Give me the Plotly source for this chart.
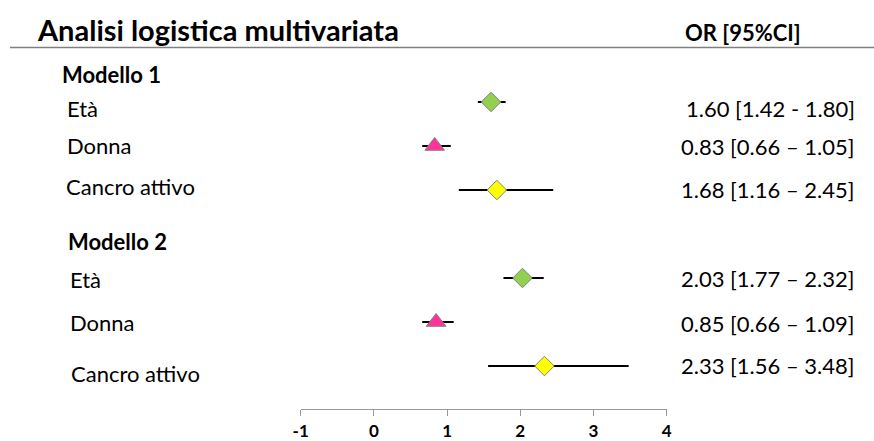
import plotly.graph_objects as go

# Odds ratios and 95% confidence intervals for the two logistic models
models = ["Modello 1", "Modello 2"]
variables = ["Età", "Donna", "Cancro attivo"]
or_m1 = [1.60, 0.83, 1.68]
lo_m1 = [1.42, 0.66, 1.16]
hi_m1 = [1.80, 1.05, 2.45]
or_m2 = [2.03, 0.85, 2.33]
lo_m2 = [1.77, 0.66, 1.56]
hi_m2 = [2.32, 1.09, 3.48]
ci_text_m1 = ["1.60 [1.42 - 1.80]", "0.83 [0.66 – 1.05]", "1.68 [1.16 – 2.45]"]
ci_text_m2 = ["2.03 [1.77 – 2.32]", "0.85 [0.66 – 1.09]", "2.33 [1.56 – 3.48]"]
x_ticks = [-1, 0, 1, 2, 3, 4]

# marker style per variable
symbols = ["diamond", "triangle-up", "diamond"]
colors = ["#92D050", "#FF3399", "#FFFF00"]
sizes = [15, 17, 15]

W, H = 874, 441
FONT = "Lato, 'Open Sans', sans-serif"

# row slots: header of model 1 at 0, its variables at 1..3, header of model 2 at 4, variables 5..7
rows_m1 = [1, 2, 3]
rows_m2 = [5, 6, 7]

fig = go.Figure()

for rows, ors, los, his in [(rows_m1, or_m1, lo_m1, hi_m1), (rows_m2, or_m2, lo_m2, hi_m2)]:
    for i in range(3):
        fig.add_trace(go.Scatter(
            x=[ors[i]], y=[rows[i]], mode="markers",
            marker=dict(symbol=symbols[i], size=sizes[i], color=colors[i],
                        line=dict(color="#7F7F7F", width=1)),
            error_x=dict(type="data", symmetric=False,
                         array=[his[i] - ors[i]], arrayminus=[ors[i] - los[i]],
                         color="black", thickness=2, width=0),
            showlegend=False, hoverinfo="skip",
        ))

# helpers for placing text in pixel units
def px(x):
    return x / W

def py(y):
    return 1 - y / H

annotations = []

def label(text, x, y, anchor="left", size=22, bold=False):
    annotations.append(dict(
        text=f"<b>{text}</b>" if bold else text,
        x=px(x), y=py(y), xref="paper", yref="paper",
        xanchor=anchor, yanchor="middle", showarrow=False,
        borderpad=0, borderwidth=0,
        font=dict(family=FONT, size=size, color="black"),
    ))

label("Analisi logistica multivariata", 37, 30, size=29, bold=True)
label("OR [95%CI]", 685, 32, size=22, bold=True)

label(models[0], 62, 75, size=22, bold=True)
for name, (lx, ly) in zip(variables, [(67, 108), (67, 145), (66, 186)]):
    label(name, lx, ly)
label(models[1], 68, 241, size=22, bold=True)
for name, (lx, ly) in zip(variables, [(70, 279), (70, 322), (71, 373)]):
    label(name, lx, ly)

for txt, ly in zip(ci_text_m1, [108, 147, 190]):
    label(txt, 855, ly, anchor="right")
for txt, ly in zip(ci_text_m2, [278, 323, 365]):
    label(txt, 855, ly, anchor="right")

fig.update_layout(
    width=W, height=H,
    margin=dict(l=0, r=0, t=0, b=0),
    paper_bgcolor="white", plot_bgcolor="white",
    annotations=annotations,
    shapes=[dict(type="line", xref="paper", yref="paper",
                 x0=px(10), x1=1, y0=py(47.5), y1=py(47.5),
                 line=dict(color="#7F7F7F", width=1.5))],
    xaxis=dict(
        domain=[300.7 / W, 666.7 / W], range=[-1, 4],
        tickvals=x_ticks, ticktext=[f"<b>{t}</b>" for t in x_ticks],
        showgrid=False, zeroline=False, automargin=False,
        showline=True, linecolor="#9A9A9A", linewidth=1,
        ticks="outside", ticklen=6, tickcolor="#9A9A9A", tickwidth=1,
        ticklabelstandoff=1,
        tickfont=dict(family=FONT, size=17, color="black"),
    ),
    yaxis=dict(
        domain=[(H - 409) / H, 1],
        range=[1 + (409 - 102) / 44, 1 - 102 / 44],
        visible=False, showgrid=False, zeroline=False, automargin=False,
    ),
)

fig.write_html("out.html")
